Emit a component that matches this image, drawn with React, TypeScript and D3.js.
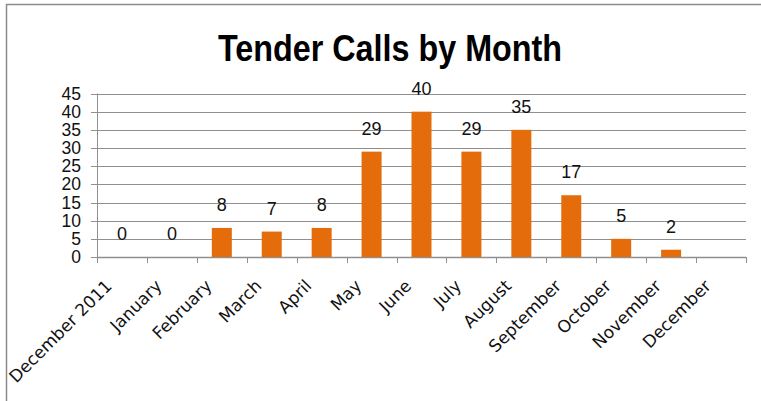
import React, { useEffect, useRef } from 'react';
import * as d3 from 'd3';

const months = [
  'December 2011', 'January', 'February', 'March', 'April', 'May', 'June',
  'July', 'August', 'September', 'October', 'November', 'December',
];
const calls: (number | null)[] = [0, 0, 8, 7, 8, 29, 40, 29, 35, 17, 5, 2, null];
const yTicks = [0, 5, 10, 15, 20, 25, 30, 35, 40, 45];

const W = 761;
const H = 401;

const App = () => {
  const ref = useRef<SVGSVGElement>(null);

  useEffect(() => {
    const svg = d3.select(ref.current);
    svg.selectAll('*').remove();

    const left = 97, right = 746, top = 93.5, bottom = 257;

    const x = d3.scaleBand<string>().domain(months).range([left, right]);
    const y = d3.scaleLinear().domain([0, 45]).range([bottom, top]);

    svg.append('rect').attr('width', W).attr('height', H).attr('fill', '#fff');

    // outer chart frame (runs off the right/bottom edge)
    svg.append('rect')
      .attr('x', 6.5).attr('y', 4.5)
      .attr('width', 900).attr('height', 600)
      .attr('fill', 'none').attr('stroke', '#8c8c8c').attr('stroke-width', 1.5);

    svg.append('text')
      .attr('x', 390).attr('y', 61)
      .attr('text-anchor', 'middle')
      .attr('font-family', 'Liberation Sans Narrow, Liberation Sans, Arial, sans-serif')
      .attr('font-weight', 'bold')
      .attr('font-size', 36)
      .attr('textLength', 344)
      .attr('lengthAdjust', 'spacingAndGlyphs')
      .text('Tender Calls by Month');

    // gridlines + y ticks
    yTicks.forEach((t) => {
      svg.append('line')
        .attr('x1', left - 6).attr('x2', right)
        .attr('y1', Math.round(y(t)) + 0.5).attr('y2', Math.round(y(t)) + 0.5)
        .attr('stroke', '#8f8f8f').attr('stroke-width', 1);
      svg.append('text')
        .attr('x', 81).attr('y', y(t) + 6)
        .attr('text-anchor', 'end')
        .attr('font-family', 'Liberation Sans Narrow, Liberation Sans, Arial, sans-serif')
        .attr('font-size', 17.5)
        .attr('fill', '#111')
        .text(t);
    });

    // y axis line
    svg.append('line')
      .attr('x1', left + 0.5).attr('x2', left + 0.5)
      .attr('y1', top).attr('y2', bottom)
      .attr('stroke', '#8f8f8f');

    // x axis ticks at category boundaries
    const bounds = months.map((m) => x(m) as number).concat([right]);
    bounds.forEach((b) => {
      svg.append('line')
        .attr('x1', Math.round(b) + 0.5).attr('x2', Math.round(b) + 0.5)
        .attr('y1', bottom).attr('y2', bottom + 6)
        .attr('stroke', '#8f8f8f');
    });
    svg.append('line')
      .attr('x1', left).attr('x2', right)
      .attr('y1', bottom + 0.5).attr('y2', bottom + 0.5)
      .attr('stroke', '#8f8f8f').attr('stroke-width', 1.5);

    const barW = 20;
    months.forEach((m, i) => {
      const v = calls[i];
      const cx = (x(m) as number) + x.bandwidth() / 2;
      if (v !== null && v > 0) {
        svg.append('rect')
          .attr('x', cx - barW / 2).attr('y', y(v))
          .attr('width', barW).attr('height', bottom - y(v))
          .attr('fill', '#e46c0a');
      }
      if (v !== null) {
        svg.append('text')
          .attr('x', cx).attr('y', Math.min(y(v) - 17, 240))
          .attr('text-anchor', 'middle')
          .attr('font-family', 'Liberation Sans, Arial, sans-serif')
          .attr('font-size', 18)
          .attr('fill', '#111')
          .text(v);
      }
      svg.append('text')
        .attr('transform', `translate(${cx - 9},${bottom + 30}) rotate(-45)`)
        .attr('text-anchor', 'end')
        .attr('font-family', 'DejaVu Sans, Verdana, sans-serif')
        .attr('font-size', 17)
        .attr('fill', '#111')
        .text(m);
    });
  }, []);

  return (
    <svg ref={ref} width={W} height={H} style={{ position: 'absolute', left: 0, top: 0 }} />
  );
};

export default App;
